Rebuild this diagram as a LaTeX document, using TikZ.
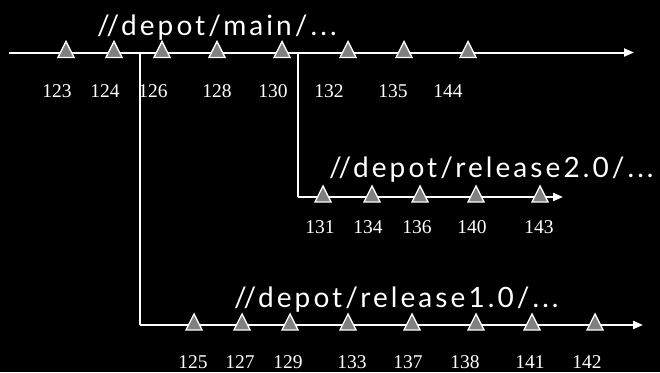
\documentclass[tikz,border=0pt]{standalone}
\usepackage{fontspec}
\setmainfont{Liberation Serif}
\newfontfamily\titlefont[LetterSpace=11]{Lato}
\usetikzlibrary{shapes.geometric,arrows.meta}
\definecolor{revgray}{RGB}{128,128,128}
\begin{document}
\begin{tikzpicture}[x=1pt,y=-1pt,
  rev/.style={draw=white, fill=revgray, line width=1.3pt, isosceles triangle,
    shape border rotate=90, isosceles triangle stretches,
    minimum width=16pt, minimum height=16pt, inner sep=0pt, anchor=center},
  num/.style={text=white, font=\fontsize{19.5}{20}\selectfont, anchor=base, inner sep=0pt},
  title/.style={text=white, font=\titlefont\fontsize{28}{30}\selectfont, anchor=base west, inner sep=0pt},
  branch/.style={draw=white, line width=2pt, -{Triangle[length=10pt,width=8pt]}},
  link/.style={draw=white, line width=1.5pt}]
\fill[black] (0,0) rectangle (660,372);
\useasboundingbox (0,0) rectangle (660,372);

% titles
\node[title] (tmain) at (97,35) {//depot/main/...};
\node[title] (trel2) at (329,177) {//depot/release2.0/...};
\node[title] (trel1) at (234,307) {//depot/release1.0/...};

% lines
\coordinate (m0) at (9,52.5);
\coordinate (m1) at (634,52.5);
\coordinate (b1) at (140,52.5);
\coordinate (c1) at (140,325);
\coordinate (r1e) at (643,325);
\coordinate (b2) at (298,52.5);
\coordinate (c2) at (298,197);
\coordinate (r2e) at (563,197);
\draw[branch] (m0) -- (m1);
\draw[link] (b1) -- (c1);
\draw[branch] (c1) -- (r1e);
\draw[link] (b2) -- (c2);
\draw[branch] (c2) -- (r2e);

% main revisions
\foreach \tx/\lx/\n in {66/57/123,114/105/124,162/153/126,217/217/128,282/273/130,348/329/132,404/393/135,468/448/144}{
  \node[rev] (t\n) at (\tx,52.5) {};
  \node[num] (l\n) at (\lx,97) {\n};
}
% release2.0 revisions
\foreach \tx/\lx/\n in {323/320/131,372/368/134,420/417/136,476/472/140,540/539/143}{
  \node[rev] (t\n) at (\tx,197) {};
  \node[num] (l\n) at (\lx,233) {\n};
}
% release1.0 revisions
\foreach \tx/\lx/\n in {194/193/125,242/240/127,290/288/129,348/352/133,412/408/137,476/465/138,532/530/141,595/587/142}{
  \node[rev] (t\n) at (\tx,325) {};
  \node[num] (l\n) at (\lx,368) {\n};
}
\end{tikzpicture}
\end{document}
